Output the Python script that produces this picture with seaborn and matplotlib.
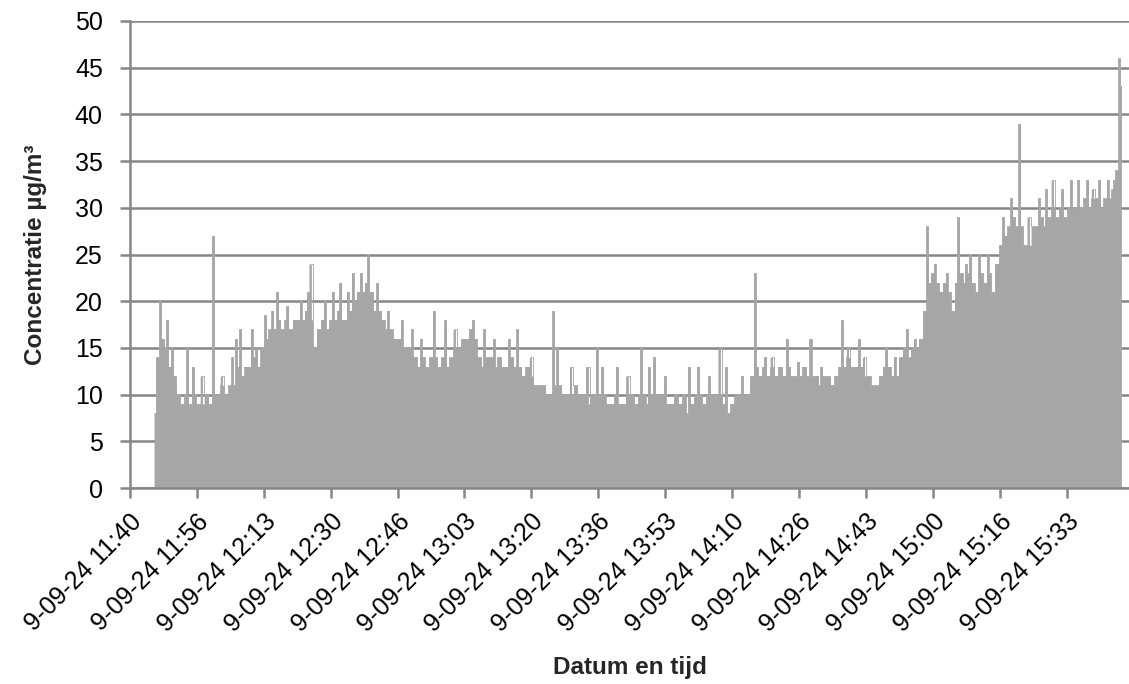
import numpy as np
import pandas as pd
import matplotlib
matplotlib.use("Agg")
import matplotlib.pyplot as plt
import seaborn as sns

# ---- data (minutes after 11:40) ----
start_minute = 6
base_values = [
    8, 14, 16, 15, 13, 12, 10, 9, 10, 9,
    10, 9, 9, 10, 9, 10, 10, 11, 10, 11,
    11, 13, 12, 13, 13, 14, 13, 15, 16, 17,
    17, 18, 17, 18, 17, 18, 18, 18, 19, 18,
    15, 17, 18, 17, 18, 18, 19, 18, 18, 19,
    20, 21, 21, 22, 21, 19, 19, 18, 17, 17,
    16, 16, 15, 15, 15, 14, 13, 14, 13, 14,
    14, 13, 14, 13, 14, 15, 15, 16, 16, 17,
    16, 14, 13, 14, 14, 13, 14, 13, 13, 14,
    13, 13, 12, 13, 12, 11, 11, 11, 10, 10,
    11, 11, 10, 10, 10, 11, 10, 10, 9, 10,
    10, 10, 10, 9, 9, 10, 9, 9, 10, 10,
    9, 10, 10, 9, 10, 10, 10, 10, 9, 9,
    10, 9, 10, 8, 9, 10, 10, 9, 10, 10,
    10, 10, 9, 8, 9, 10, 10, 10, 10, 12,
    13, 12, 13, 12, 13, 12, 13, 12, 13, 12,
    12, 12, 13, 12, 12, 12, 11, 12, 12, 11,
    12, 13, 13, 14, 13, 13, 13, 12, 12, 11,
    11, 12, 13, 13, 12, 12, 14, 15, 14, 15,
    15, 16, 19, 22, 23, 22, 21, 22, 21, 19,
    22, 23, 22, 23, 22, 21, 23, 22, 23, 21,
    24, 26, 27, 28, 29, 28, 28, 26, 26, 28,
    28, 29, 28, 29, 30, 29, 30, 29, 30, 30,
    30, 30, 31, 30, 31, 31, 30, 31, 31, 32,
    34, 35,
]
spike_minutes = [
    7.5, 9.1, 10.5, 14.1, 15.8, 18.0, 20.9, 23.0, 25.5, 26.3, 27.4, 30.1,
    31.5, 33.8, 35.5, 36.9, 39.0, 42.5, 44.2, 45.0, 48.5, 50.5, 52.4, 54.0,
    55.4, 57.5, 59.2, 61.7, 64.0, 67.9, 70.0, 72.5, 75.8, 78.7, 81.0, 85.4,
    88.0, 90.8, 94.3, 96.6, 100.0, 105.4, 106.5, 110.0, 114.0, 116.0, 117.8,
    121.0, 124.0, 127.2, 129.0, 130.7, 133.0, 139.0, 141.5, 144.0, 147.0,
    148.5, 152.5, 155.8, 158.0, 160.0, 163.8, 166.5, 169.6, 172.0, 177.2,
    179.0, 181.8, 183.0, 188.4, 190.5, 193.5, 195.5, 198.8, 200.5, 203.5,
    206.3, 208.0, 209.2, 211.7, 213.8, 217.5, 219.7, 221.7, 224.0, 226.5,
    228.0, 230.0, 232.0, 234.4, 236.0, 238.6, 240.0, 241.5, 243.6, 245.0,
    246.5, 246.9,
]
spike_values = [
    20, 18, 15, 15, 13, 12, 27, 12, 14, 16, 17, 17,
    15, 18.5, 19, 21, 19.5, 20, 21, 24, 20, 21, 22, 21,
    23, 23, 25, 22, 19, 18, 17, 16, 19, 18, 17, 18,
    17, 16, 16, 17, 14, 19, 15, 13, 13, 15, 13,
    13, 12, 15, 13, 14, 12, 13, 13, 12, 15,
    13, 12, 23, 14, 14, 16, 13.5, 16, 13, 18,
    15, 16, 14, 15, 14, 17, 16, 28, 24, 23,
    29, 24, 25, 25, 25, 29, 31, 39, 29, 31,
    32, 33, 32, 33, 33, 33, 32, 33, 33, 33,
    46, 43,
]
tick_labels = [
    "9-09-24 11:40", "9-09-24 11:56", "9-09-24 12:13", "9-09-24 12:30",
    "9-09-24 12:46", "9-09-24 13:03", "9-09-24 13:20", "9-09-24 13:36",
    "9-09-24 13:53", "9-09-24 14:10", "9-09-24 14:26", "9-09-24 14:43",
    "9-09-24 15:00", "9-09-24 15:16", "9-09-24 15:33",
]
tick_step_min = 1000 / 60  # Excel major unit (16 min 40 s)

base_minutes = np.arange(start_minute, start_minute + len(base_values))
df = pd.concat([
    pd.DataFrame({"minute": base_minutes, "conc": base_values}),
    pd.DataFrame({"minute": spike_minutes, "conc": spike_values}),
]).sort_values("minute").reset_index(drop=True)

# ---- style ----
sns.set_theme(style="white")
plt.rcParams["font.family"] = ["Liberation Sans", "DejaVu Sans"]

fill_color = "#a6a6a6"
grid_color = "#868686"

fig = plt.figure(figsize=(11.29, 6.84), dpi=100)
ax = fig.add_axes([0.1151, 0.2865, 0.8849, 0.6828])

sns.lineplot(data=df, x="minute", y="conc", ax=ax, color=fill_color,
             drawstyle="steps-mid", linewidth=0.6, estimator=None)
ax.fill_between(df["minute"], df["conc"], step="mid", color=fill_color,
                linewidth=0)

ax.set_xlim(0, 248.9)
ax.set_ylim(0, 50)
ax.set_yticks(np.arange(0, 51, 5))
ax.yaxis.grid(True, color=grid_color, linewidth=1.8)
for l in ax.get_ygridlines():
    l.set_zorder(0.5)
ax.set_xticks([i * tick_step_min for i in range(len(tick_labels))])
ax.set_xticklabels(tick_labels, rotation=45, ha="right",
                   rotation_mode="anchor")

for side in ["top", "right"]:
    ax.spines[side].set_visible(False)
for side in ["left", "bottom"]:
    ax.spines[side].set_color(grid_color)
    ax.spines[side].set_linewidth(1.8)
    ax.spines[side].set_zorder(3)

ax.tick_params(axis="both", which="major", direction="out", length=7.5,
               width=1.8, color=grid_color, labelsize=18, labelcolor="black",
               left=True, bottom=True)
ax.tick_params(axis="x", pad=8)
ax.tick_params(axis="y", pad=12)

ax.set_xlabel("Datum en tijd", fontsize=17.5, fontweight="bold", labelpad=14)
ax.set_ylabel("Concentratie µg/m³", fontsize=17.5, fontweight="bold",
              labelpad=20)

fig.savefig("out.png", dpi=100)
